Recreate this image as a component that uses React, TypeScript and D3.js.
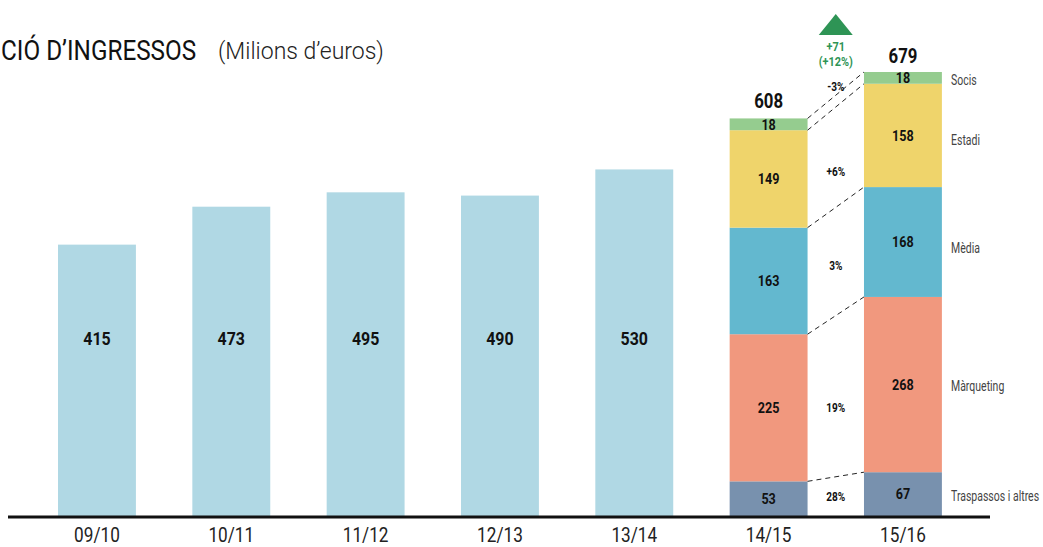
import React from 'react';
import * as d3 from 'd3';

const categories = ['09/10', '10/11', '11/12', '12/13', '13/14', '14/15', '15/16'];
const pastTotals = [415, 473, 495, 490, 530];
const segments = ['Traspassos i altres', 'Màrqueting', 'Mèdia', 'Estadi', 'Socis'];
const values1415 = [53, 225, 163, 149, 18];
const values1516 = [67, 268, 168, 158, 18];
const changes = ['28%', '19%', '3%', '+6%', '-3%'];
const segColors = ['#7891ae', '#f1987e', '#63b8cf', '#efd46b', '#95cc8f'];
const growthLabels = ['+71', '(+12%)'];

const W = 1043;
const H = 547;
const FONT = "Roboto, 'Noto Sans', sans-serif";

// condensed text: squeeze horizontally around its anchor point
function Txt({ x, y, sx = 0.84, children, ...rest }: any) {
  return (
    <text transform={`translate(${x},${y}) scale(${sx},1)`} dy="0.35em" {...rest}>
      {children}
    </text>
  );
}

function App() {
  const x = d3.scaleBand().domain(categories).range([29.8, 970.1]).paddingInner(0.42).paddingOuter(0.21);
  const y = d3.scaleLinear().domain([0, 679]).range([516, 72]);
  const bw = x.bandwidth();

  const stack = (vals: number[]) => {
    let acc = 0;
    return vals.map((v) => {
      const s = { y0: acc, y1: acc + v, v };
      acc += v;
      return s;
    });
  };
  const s1 = stack(values1415);
  const s2 = stack(values1516);
  const tot1 = d3.sum(values1415);
  const tot2 = d3.sum(values1516);
  const xa = x('14/15')! + bw;
  const xb = x('15/16')!;
  const xMid = (xa + xb) / 2;
  const labelY = y(272);

  const pctY = [497, 408, 266, 172, 87];
  const legendY = [496, 386, 248, 140, 80];

  return (
    <svg width={W} height={H} style={{ position: 'absolute', left: 0, top: 0, fontFamily: FONT }}>
      <Txt x={1} y={51} sx={0.9} fontSize={27} fill="#111">CIÓ D’INGRESSOS</Txt>
      <Txt x={218} y={51} sx={1.0} fontSize={23} fill="#222" fontWeight={300}>(Milions d’euros)</Txt>

      {pastTotals.map((v, i) => (
        <g key={categories[i]}>
          <rect x={x(categories[i])} y={y(v)} width={bw} height={y(0) - y(v)} fill="#b0d8e4" />
          <Txt x={x(categories[i])! + bw / 2} y={labelY} textAnchor="middle" fontSize={19} fontWeight="bold" fill="#111">{v}</Txt>
        </g>
      ))}

      {[s1, s2].map((s, j) => (
        <g key={j}>
          {s.map((d, i) => (
            <g key={segments[i]}>
              <rect x={j === 0 ? x('14/15') : xb} y={y(d.y1)} width={bw} height={y(d.y0) - y(d.y1)} fill={segColors[i]} />
              <Txt x={(j === 0 ? x('14/15')! : xb) + bw / 2} y={(y(d.y0) + y(d.y1)) / 2} textAnchor="middle" fontSize={15} fontWeight="bold" fill="#111">{d.v}</Txt>
            </g>
          ))}
        </g>
      ))}

      {s1.map((d, i) => (
        <line key={i} x1={xa} y1={y(d.y1)} x2={xb} y2={y(s2[i].y1)} stroke="#222" strokeWidth={1} strokeDasharray="5,4" />
      ))}

      {changes.map((c, i) => (
        <Txt key={c} x={xMid} y={pctY[i]} textAnchor="middle" fontSize={12} fontWeight="bold" fill="#111">{c}</Txt>
      ))}

      <Txt x={x('14/15')! + bw / 2} y={y(tot1) - 17} textAnchor="middle" fontSize={20} fontWeight="bold" fill="#111">{tot1}</Txt>
      <Txt x={xb + bw / 2} y={y(tot2) - 16} textAnchor="middle" fontSize={20} fontWeight="bold" fill="#111">{tot2}</Txt>

      <path d={`M${xMid - 17},35 L${xMid},14 L${xMid + 17},35 Z`} fill="#2e9455" />
      <Txt x={xMid} y={46} textAnchor="middle" fontSize={13} fontWeight="bold" fill="#2e9455">{growthLabels[0]}</Txt>
      <Txt x={xMid} y={61} textAnchor="middle" fontSize={13} fontWeight="bold" fill="#2e9455">{growthLabels[1]}</Txt>

      {segments.map((s, i) => (
        <Txt key={s} x={951} y={legendY[i]} sx={0.7} fontSize={15} fill="#444">{s}</Txt>
      ))}

      <line x1={8} x2={990} y1={y(0) + 1} y2={y(0) + 1} stroke="#111" strokeWidth={3} />
      {categories.map((c) => (
        <Txt key={c} x={x(c)! + bw / 2} y={535} sx={0.86} textAnchor="middle" fontSize={20} fill="#222">{c}</Txt>
      ))}
    </svg>
  );
}

export default App;
